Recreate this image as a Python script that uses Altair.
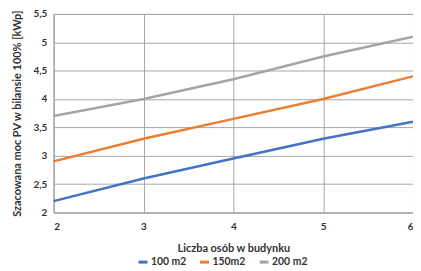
import altair as alt
import pandas as pd

osoby = [2, 3, 4, 5, 6]
s100 = [2.2, 2.6, 2.95, 3.3, 3.6]
s150 = [2.9, 3.3, 3.65, 4.0, 4.4]
s200 = [3.7, 4.0, 4.35, 4.75, 5.1]
series = ["100 m2", "150m2", "200 m2"]
colors = ["#4472C4", "#ED7D31", "#A5A5A5"]

rows = []
for name, vals in zip(series, [s100, s150, s200]):
    for x, v in zip(osoby, vals):
        rows.append({"osoby": x, "moc": v, "seria": name})
df = pd.DataFrame(rows)

font = "Lato"
chart = alt.Chart(df).mark_line(strokeWidth=2.5).encode(
    x=alt.X("osoby:Q", scale=alt.Scale(domain=[2, 6], nice=False),
            axis=alt.Axis(values=[2, 3, 4, 5, 6], title="Liczba osób w budynku",
                          labelPadding=9, titlePadding=11, ticks=False)),
    y=alt.Y("moc:Q", scale=alt.Scale(domain=[2, 5.5], nice=False, zero=False),
            axis=alt.Axis(values=[2, 2.5, 3, 3.5, 4, 4.5, 5, 5.5],
                          title="Szacowana moc PV w bilansie 100% [kWp]",
                          labelExpr="replace(format(datum.value, '~g'), '.', ',')",
                          labelPadding=7, ticks=False, titlePadding=10)),
    color=alt.Color("seria:N", scale=alt.Scale(domain=series, range=colors),
                    legend=alt.Legend(orient="none", legendX=84, legendY=244,
                                      direction="horizontal", title=None, symbolType="stroke",
                                      symbolStrokeWidth=3, symbolSize=80,
                                      labelFontSize=10.5, labelFont=font, labelFontWeight="bold",
                                      labelColor="#333333", columnPadding=7, labelOffset=2)),
).properties(
    width=362, height=200,
    autosize=alt.AutoSizeParams(type="none"),
    padding={"left": 46, "top": 5, "right": 0, "bottom": 60},
).configure_axis(
    labelFont=font, titleFont=font, labelFontSize=10, titleFontSize=11,
    labelFontWeight="bold", titleFontWeight="bold",
    labelColor="#333333", titleColor="#333333",
    gridColor="#A6A6A6", gridWidth=1, domainColor="#A6A6A6",
).configure_view(stroke="#A6A6A6", strokeWidth=1)

chart.save("out.html", embed_options={"renderer": "svg", "actions": False})
